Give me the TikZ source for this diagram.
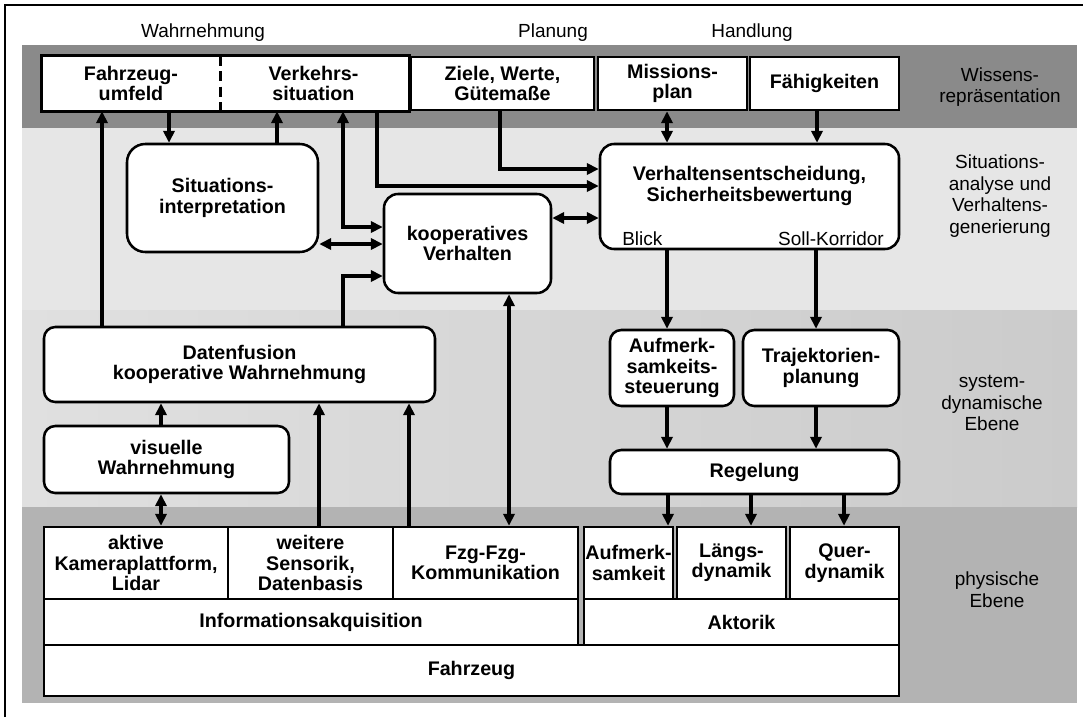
\documentclass[tikz,border=0pt]{standalone}
\usepackage{fontspec}
\setmainfont{Liberation Sans}
\usetikzlibrary{arrows.meta}

\definecolor{wissen}{HTML}{8A8A8A}
\definecolor{analyse}{HTML}{E6E6E6}
\definecolor{dynleft}{HTML}{E0E0E0}
\definecolor{dynright}{HTML}{CBCBCB}
\definecolor{physisch}{HTML}{B3B3B3}

\tikzset{
  box/.style={draw, fill=white, line width=1.8pt, inner sep=0pt, align=center,
    font=\fontsize{14}{14.5}\selectfont\bfseries},
  rbox/.style={box, rounded corners=8pt},
  wh/.style 2 args={minimum width=#1*0.025cm, minimum height=#2*0.025cm},
  lbl/.style={align=center, inner sep=0pt, font=\fontsize{13.5}{15.5}\selectfont},
  tip/.tip={Triangle[length=8.5pt,width=8pt]},
  arr/.style={line width=2.6pt, -tip},
  darr/.style={line width=2.6pt, tip-tip}
}

\begin{document}
\begin{tikzpicture}[x=0.025cm,y=-0.025cm]
    \useasboundingbox (0,0) rectangle (1083,717);
    \fill[white] (0,0) rectangle (1083,717);

    \fill[wissen] (22,45) rectangle (1077,128);
    \fill[analyse] (22,128) rectangle (1077,310);
    \shade[left color=dynleft, right color=dynright] (22,310) rectangle (1077,507);
    \fill[physisch] (22,507) rectangle (1077,703);
    \draw[line width=1.8pt] (5,717) -- (5,5) -- (1083,5);

    \node[lbl] (wahr) at (203,33) {Wahrnehmung};
    \node[lbl] (plan) at (553,33) {Planung};
    \node[lbl] (hand) at (752,33) {Handlung};
    \node[lbl] (ebene1) at (1000,87) {Wissens-\\repräsentation};
    \node[lbl] (ebene2) at (1000,196) {Situations-\\analyse und\\Verhaltens-\\generierung};
    \node[lbl] (ebene3) at (992,403) {system-\\dynamische\\Ebene};
    \node[lbl] (ebene4) at (997,590) {physische\\Ebene};

    \node[box, draw=none, wh={176}{53}] (umfeld) at (131,83.5) {Fahrzeug-\\umfeld};
    \node[box, draw=none, wh={189}{53}] (verkehr) at (313.5,83.5) {Verkehrs-\\situation};
    \draw[line width=1.8pt] (umfeld.south west) rectangle (verkehr.north east);
    \draw[line width=2.2pt, dash pattern=on 7pt off 4pt] (umfeld.north east) -- (umfeld.south east);
    \node[box, wh={183}{53}] (ziele) at (502.5,83.5) {Ziele, Werte,\\Gütemaße};
    \node[box, wh={149}{53}] (mission) at (672.5,83.5) {Missions-\\plan};
    \node[box, wh={149}{53}] (faehig) at (824.5,83.5) {Fähigkeiten};

    \node[rbox, rounded corners=13pt, wh={191}{108}] (interp) at (222.5,198) {Situations-\\interpretation};
    \node[rbox, rounded corners=10pt, wh={167}{99}] (koop) at (467.5,243.5) {kooperatives\\Verhalten};
    \node[rbox, rounded corners=10pt, wh={299}{105}] (entsch) at (749.5,196.5) {};
    \node[box, draw=none, fill=none] (entschtxt) at (749.5,186) {Verhaltensentscheidung,\\Sicherheitsbewertung};
    \node[lbl, anchor=west] (blick) at (622,239) {Blick};
    \node[lbl, anchor=east] (soll) at (884,239) {Soll-Korridor};

    \node[rbox, wh={391}{75}] (fusion) at (239.5,364.5) {Datenfusion\\kooperative Wahrnehmung};
    \node[rbox, wh={245}{67}] (visuell) at (166.5,459.5) {visuelle\\Wahrnehmung};
    \node[rbox, wh={124}{76}] (aufst) at (672,368) {Aufmerk-\\samkeits-\\steuerung};
    \node[rbox, wh={156}{76}] (traj) at (821,368) {Trajektorien-\\planung};
    \node[rbox, wh={289}{44}] (regel) at (754.5,472) {Regelung};

    \node[box, wh={184}{72}] (kamera) at (136,563) {aktive\\Kameraplattform,\\Lidar};
    \node[box, wh={165}{72}] (sensorik) at (310.5,563) {weitere\\Sensorik,\\Datenbasis};
    \node[box, wh={185}{72}] (fzgfzg) at (485.5,563) {Fzg-Fzg-\\Kommunikation};
    \node[box, wh={534}{46}] (info) at (311,622) {Informationsakquisition};
    \node[box, wh={89}{72}] (aufm) at (628.5,563) {Aufmerk-\\samkeit};
    \node[box, wh={109}{72}] (laengs) at (731.5,563) {Längs-\\dynamik};
    \node[box, wh={109}{72}] (quer) at (844.5,563) {Quer-\\dynamik};
    \node[box, wh={315}{46}] (aktorik) at (741.5,622) {Aktorik};
    \node[box, wh={855}{51}] (fahrzeug) at (471.5,670.5) {Fahrzeug};

    \draw[arr] (102,0 |- fusion.north) -- (102,0 |- umfeld.south);
    \draw[arr] (169,0 |- umfeld.south) -- (169,0 |- interp.north);
    \draw[arr] (277,0 |- interp.north) -- (277,0 |- verkehr.south);
    \draw[darr] (343,0 |- verkehr.south) |- (koop.west |- 0,227);
    \draw[arr] (377,0 |- verkehr.south) |- (entsch.west |- 0,186);
    \draw[arr] (500,0 |- ziele.south) |- (entsch.west |- 0,169);
    \draw[darr] (interp.east |- 0,244) -- (koop.west |- 0,244);
    \draw[arr] (343,0 |- fusion.north) |- (koop.west |- 0,276);
    \draw[darr] (koop.east |- 0,218) -- (entsch.west |- 0,218);
    \draw[darr] (667,0 |- mission.south) -- (667,0 |- entsch.north);
    \draw[arr] (817,0 |- faehig.south) -- (817,0 |- entsch.north);
    \foreach \x/\s/\t in {667/entsch/aufst, 816/entsch/traj, 667/aufst/regel, 816/traj/regel}
      \draw[arr] (\x,0 |- \s.south) -- (\x,0 |- \t.north);
    \foreach \x/\t in {668/aufm, 751/laengs, 844/quer}
      \draw[arr] (\x,0 |- regel.south) -- (\x,0 |- \t.north);
    \draw[arr] (161,0 |- visuell.north) -- (161,0 |- fusion.south);
    \draw[darr] (161,0 |- kamera.north) -- (161,0 |- visuell.south);
    \draw[arr] (319,0 |- sensorik.north) -- (319,0 |- fusion.south);
    \draw[arr] (409,0 |- fzgfzg.north) -- (409,0 |- fusion.south);
    \draw[darr] (509,0 |- fzgfzg.north) -- (509,0 |- koop.south);
\end{tikzpicture}
\end{document}
